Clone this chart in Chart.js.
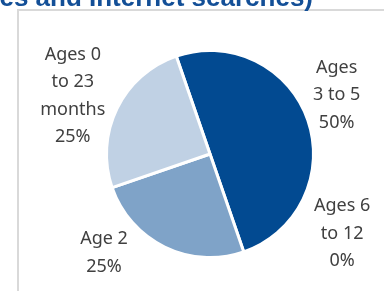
<!DOCTYPE html>
<html>
<head>
<meta charset="utf-8">
<script src="https://cdn.jsdelivr.net/npm/chart.js@4.4.1/dist/chart.umd.min.js"></script>
<style>
  html, body { margin: 0; padding: 0; background: #fff; }
  #wrap { position: relative; width: 384px; height: 291px; overflow: hidden; }
  #frame { position: absolute; left: 17px; top: 9px; right: -4px; bottom: -4px; border: 2px solid #d9d9d9; }
  canvas { position: absolute; left: 0; top: 0; }
</style>
</head>
<body>
<div id="wrap">
  <div id="frame"></div>
  <canvas id="chart" width="384" height="291"></canvas>
</div>
<script>
// Datos del gráfico (orden en sentido horario desde el corte superior)
const categories = [['Ages', '3 to 5'], ['Ages 6', 'to 12'], ['Age 2'], ['Ages 0', 'to 23', 'months']];
const shares = [50, 0, 25, 25];
const sliceColors = ['#024a91', '#5b85b8', '#7fa3c8', '#c0d1e4'];
const titleText = 'es and Internet searches)';

// Posición de cada etiqueta: ángulo (grados desde arriba, horario) y distancia relativa al radio
const labelPlacement = [
    { angle: 65, dist: 1.35 },
    { angle: 121, dist: 1.49 },
    { angle: 227, dist: 1.40 },
    { angle: 293, dist: 1.44 }
];

const labelFont = '18px "Noto Sans", sans-serif';
const lineHeight = 27.5;

/**
 * Dibuja el título recortado y las etiquetas fuera de la tarta
 */
const pieLabels = {
    id: 'pieLabels',
    afterDraw(chart) {
        const ctx = chart.ctx;
        const meta = chart.getDatasetMeta(0);
        ctx.save();

        // Título (cortado por el borde izquierdo)
        ctx.font = 'bold 26px "Liberation Sans", Arial, sans-serif';
        ctx.fillStyle = '#134f97';
        ctx.textAlign = 'right';
        ctx.textBaseline = 'alphabetic';
        ctx.fillText(titleText, 313, 6);

        ctx.font = labelFont;
        ctx.fillStyle = '#404040';
        ctx.textAlign = 'center';
        ctx.textBaseline = 'middle';
        meta.data.forEach((arc, i) => {
            const p = labelPlacement[i];
            const a = (p.angle - 90) * Math.PI / 180;
            const r = arc.outerRadius * p.dist;
            const cx = arc.x + Math.cos(a) * r;
            const cy = arc.y + Math.sin(a) * r;
            const lines = categories[i].concat([shares[i] + '%']);
            const top = cy - (lines.length - 1) * lineHeight / 2;
            lines.forEach((line, j) => ctx.fillText(line, cx, top + j * lineHeight));
        });
        ctx.restore();
    }
};

new Chart(document.getElementById('chart'), {
    type: 'pie',
    data: {
        labels: categories.map(c => c.join(' ')),
        datasets: [{
            data: shares,
            backgroundColor: sliceColors,
            borderColor: '#ffffff',
            borderWidth: 3
        }]
    },
    options: {
        responsive: false,
        animation: false,
        rotation: -19,
        layout: { padding: { left: 105, right: 69, top: 49, bottom: 32 } },
        plugins: {
            legend: { display: false },
            tooltip: { enabled: false }
        }
    },
    plugins: [pieLabels]
});
</script>
</body>
</html>
